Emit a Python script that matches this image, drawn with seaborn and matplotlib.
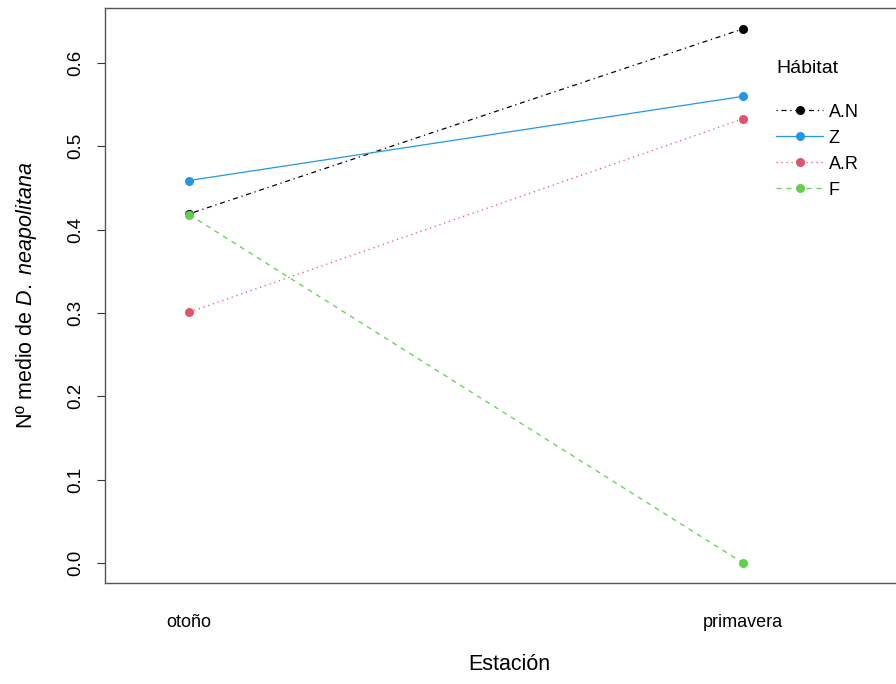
import matplotlib
matplotlib.use("Agg")
import matplotlib.pyplot as plt
import seaborn as sns
import pandas as pd
from matplotlib.lines import Line2D

sns.set_theme(style="white")
plt.rcParams['font.family'] = ['Liberation Sans', 'DejaVu Sans']
plt.rcParams['mathtext.fontset'] = 'custom'
plt.rcParams['mathtext.rm'] = 'Liberation Sans'
plt.rcParams['mathtext.it'] = 'Liberation Sans:italic'
for k in ['text.color', 'axes.labelcolor', 'xtick.color', 'ytick.color']:
    plt.rcParams[k] = 'black'

estaciones = ["otoño", "primavera"]
habitats = ["A.N", "Z", "A.R", "F"]
valores = {
    "A.N": [0.419, 0.641],
    "Z":   [0.459, 0.560],
    "A.R": [0.301, 0.533],
    "F":   [0.418, 0.000],
}
colores = {"A.N": "#000000", "Z": "#2297E6", "A.R": "#DF536B", "F": "#61D04F"}
dashes = {"A.N": (1, 3, 4, 3), "Z": "", "A.R": (1, 3), "F": (4, 4)}

rows = []
for h in habitats:
    for i, e in enumerate(estaciones):
        rows.append({"Hábitat": h, "x": i + 1, "Estación": e, "valor": valores[h][i]})
df = pd.DataFrame(rows)

fig = plt.figure(figsize=(8.96, 6.84), dpi=100)
ax = fig.add_axes([105 / 896, 1 - 583 / 684, 1 - 105 / 896 + 0.02, (583 - 8) / 684])

for h in habitats:
    sub = df[df["Hábitat"] == h]
    ls = "-" if dashes[h] == "" else (0, dashes[h])
    sns.lineplot(data=sub, x="x", y="valor", ax=ax, color=colores[h], linestyle=ls,
                 linewidth=0.9, marker="o", markersize=6.5, markeredgewidth=0,
                 zorder=3, legend=False)

ax.set_xlim(0.848, 2.276 + 0.02 * 896 / 554 * 1.0)
ax.set_ylim(-0.024, 0.666)
ax.set_xticks([1, 2])
ax.set_xticklabels(estaciones, fontsize=13)
ax.tick_params(axis="x", length=0, pad=22)
ax.set_yticks([0.0, 0.1, 0.2, 0.3, 0.4, 0.5, 0.6])
ax.set_yticklabels(["0.0", "0.1", "0.2", "0.3", "0.4", "0.5", "0.6"], fontsize=13.5,
                   rotation=90, va="center")
ax.tick_params(axis="y", length=6, width=0.8, color="#333333", pad=9, left=True)
for s in ["left", "bottom", "top"]:
    ax.spines[s].set_color("#555555")
    ax.spines[s].set_linewidth(1.0)
ax.spines["right"].set_visible(False)
ax.set_xlabel("Estación", fontsize=15.5, labelpad=17)
ax.set_ylabel("Nº medio de $\\mathit{D.\\ neapolitana}$", fontsize=15.5, labelpad=20)

handles = []
for h in habitats:
    ls = "-" if dashes[h] == "" else (0, dashes[h])
    handles.append(Line2D([0], [0], color=colores[h], linestyle=ls, linewidth=0.9,
                          marker="o", markersize=6.5, markeredgewidth=0))
leg = fig.legend(handles, habitats, title="Hábitat", loc="upper left",
                 bbox_to_anchor=(760 / 896, 1 - 44 / 684), frameon=False,
                 fontsize=13, title_fontsize=14, handlelength=2.6, handletextpad=0.3,
                 labelspacing=0.5, alignment="left")
leg._legend_box.sep = 19

fig.savefig("out.png", dpi=100)
